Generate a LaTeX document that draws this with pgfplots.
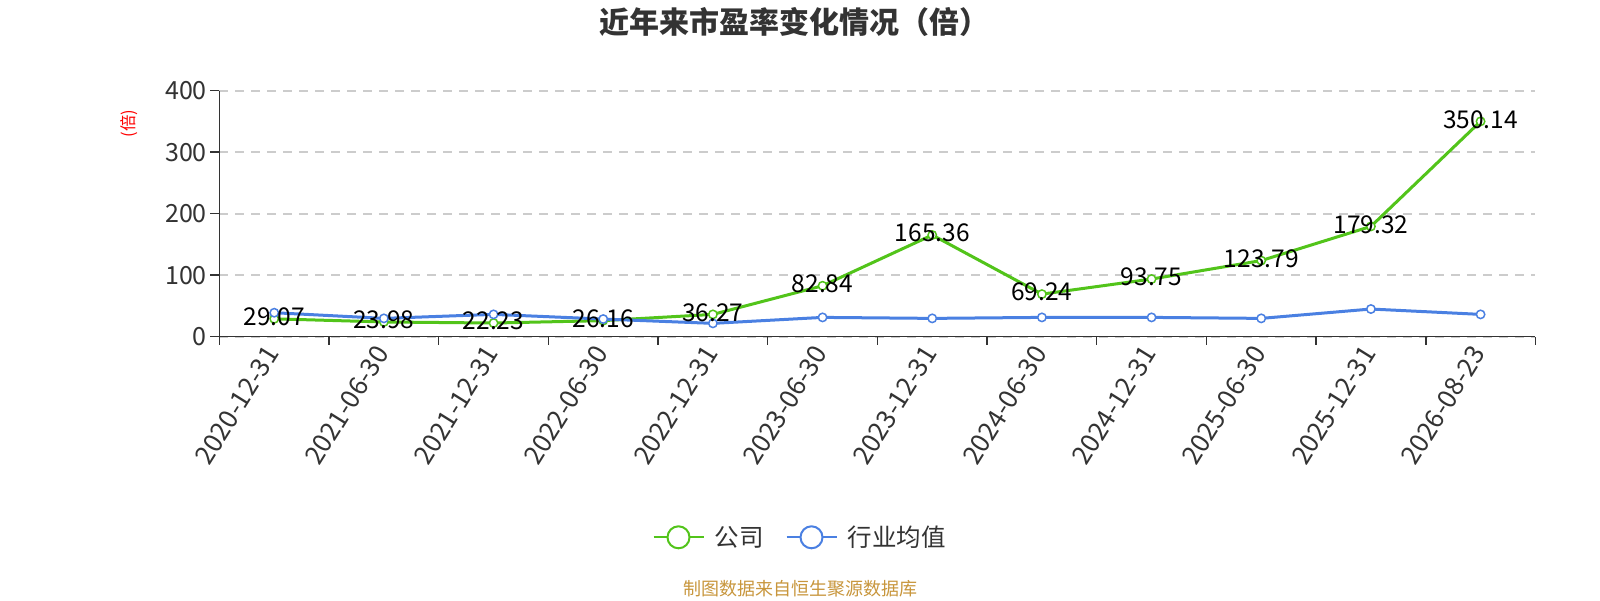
\documentclass[border=0pt]{standalone}
\usepackage{pgfplots}
\pgfplotsset{compat=1.18}
\usepackage{pgfplotstable}
\usepackage{fontspec}
\setmainfont{Noto Sans CJK SC}
\definecolor{cgreen}{RGB}{82,196,26}
\definecolor{cblue}{RGB}{74,128,226}
\definecolor{ctext}{RGB}{51,51,51}
\definecolor{csrc}{RGB}{200,150,60}
\definecolor{cgrid}{RGB}{204,204,204}

\pgfplotstableread{
x y lab
0 29.07 29.07
1 23.98 23.98
2 22.23 22.23
3 26.16 26.16
4 36.27 36.27
5 82.84 82.84
6 165.36 165.36
7 69.24 69.24
8 93.75 93.75
9 123.79 123.79
10 179.32 179.32
11 350.14 350.14
}\company

\pgfplotstableread{
x y
0 39.0
1 29.8
2 36.3
3 28.7
4 21.7
5 31.4
6 29.8
7 31.4
8 31.4
9 29.8
10 45.0
11 36.3
}\industry

\begin{document}
\begin{tikzpicture}
\useasboundingbox[fill=white] (0,0) rectangle (1600pt,-600pt);
\begin{axis}[
  at={(219.4pt,-336.7pt)}, anchor=south west,
  scale only axis, width=1316pt, height=246pt,
  xmin=-0.5, xmax=11.5, ymin=0, ymax=400,
  axis x line*=bottom, axis y line*=left,
  axis line style={ctext, line width=1.5pt},
  tick align=outside,
  major tick length=9pt, minor tick length=8pt,
  ytick={0,100,200,300,400},
  ymajorgrids,
  grid style={cgrid, dash pattern=on 8.5pt off 7.5pt, line width=1.8pt},
  xtick={0,...,11},
  xticklabels={2020-12-31,2021-06-30,2021-12-31,2022-06-30,2022-12-31,2023-06-30,2023-12-31,2024-06-30,2024-12-31,2025-06-30,2025-12-31,2026-08-23},
  major x tick style={draw=none},
  minor xtick={-0.5,0.5,...,11.5},
  minor x tick style={ctext, line width=1.5pt},
  major y tick style={ctext, line width=1.5pt},
  /pgf/number format/assume math mode=true,
  yticklabel style={font=\fontsize{25}{25}\selectfont, text=ctext},
  xticklabel style={font=\fontsize{26}{26}\selectfont, text=ctext, rotate=58, anchor=east},
  legend style={at={(0.4412,-0.8154)}, anchor=center, draw=none, fill=none,
    font=\fontsize{24.5}{24.5}\selectfont, text=ctext,
    /tikz/every odd column/.append style={column sep=8pt},
    /tikz/every even column/.append style={column sep=20pt}},
  legend columns=2,
  legend image code/.code={
    \draw[#1, line width=2pt] (0pt,0pt) -- (50pt,0pt);
    \draw[#1, line width=2pt, fill=white] (25pt,0pt) circle (11pt);
  },
  clip=false,
]
\addplot[cgreen, line width=3pt, mark=*, mark size=4.2pt, mark options={fill=white, line width=1.5pt}] table[x=x, y=y] {\company};
\addlegendentry{公司}
\addplot[cblue, line width=3pt, mark=*, mark size=4.2pt, mark options={fill=white, line width=1.5pt}] table[x=x, y=y] {\industry};
\addlegendentry{行业均值}
\addplot[draw=none, forget plot, nodes near coords, point meta=explicit symbolic,
  every node near coord/.append style={anchor=center, yshift=2pt, font=\fontsize{24.5}{24.5}\selectfont, text=black}]
  table[x=x, y=y, meta=lab] {\company};
\end{axis}
\node[font=\fontsize{30}{30}\selectfont\bfseries, text=ctext] at (794pt,-22.5pt) {近年来市盈率变化情况（倍）};
\node[font=\fontsize{16.5}{16.5}\selectfont, text=red, rotate=90] at (129.6pt,-123.5pt) {(倍)};
\node[font=\fontsize{18}{18}\selectfont, text=csrc] at (800pt,-589pt) {制图数据来自恒生聚源数据库};
\end{tikzpicture}
\end{document}
